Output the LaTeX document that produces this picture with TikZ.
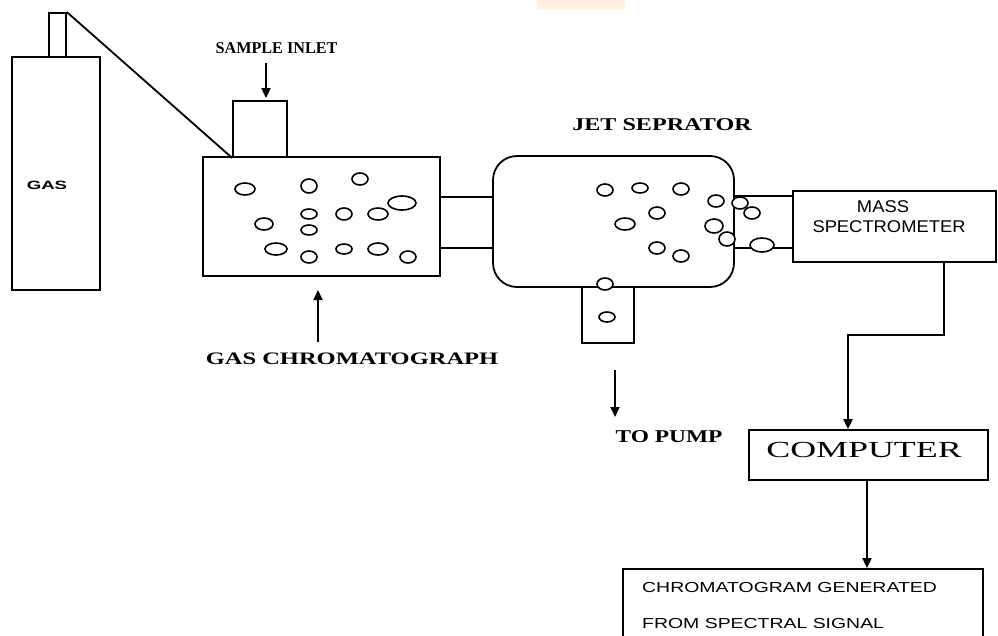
\documentclass[tikz,border=0pt]{standalone}
\usepackage{fontspec}
\setmainfont{Liberation Serif}
\setsansfont{Liberation Sans}
\usetikzlibrary{arrows.meta}

\newcommand{\wx}[2]{\scalebox{#1}[1]{#2}}

\tikzset{
  box/.style={draw, rectangle, line width=1.8pt, inner sep=0pt},
  arr/.style={-{Triangle[length=10pt,width=9pt]}, line width=1.8pt},
  pipe/.style={line width=1.8pt},
  lbl/.style={font=\bfseries\fontsize{16}{18}\selectfont, inner sep=0pt},
  slbl/.style={font=\sffamily\fontsize{14}{16}\selectfont, inner sep=0pt},
  bubble/.style={line width=1.6pt, fill=white}
}

\begin{document}
\begin{tikzpicture}[x=1pt, y=-1pt]
  \useasboundingbox (0,0) rectangle (998,635);
  % faint mark at the top edge
  \fill[orange!12] (537,0) rectangle (625,10);

  % gas cylinder
  \node (gas) [box, minimum width=88pt, minimum height=233pt] at (56,173.5) {};
  \node (neck) [box, minimum width=17pt, minimum height=44pt] at (57.5,35) {};
  \node (gastext) [slbl, font=\sffamily\bfseries\fontsize{12}{13}\selectfont] at (47,185) {\wx{1.55}{GAS}};

  % gas chromatograph
  \node (gc) [box, minimum width=237pt, minimum height=119pt] at (321.5,216.5) {};
  \node (inlet) [box, minimum width=54pt, minimum height=56pt] at (260,129) {};
  \node (inlettext) [lbl, font=\bfseries\fontsize{16.5}{18}\selectfont] at (276.5,48) {\wx{0.98}{SAMPLE INLET}};
  \node (gctext) [lbl, font=\bfseries\fontsize{17.5}{18}\selectfont] at (352,359) {\wx{1.4}{GAS CHROMATOGRAPH}};
  \coordinate (inlettop) at (266,63);
  \coordinate (gcfoot) at (318,342);
  \coordinate (gctip) at (318,290);

  % jet separator
  \node (jet) [box, rounded corners=24pt, minimum width=241pt, minimum height=131pt] at (613.5,221.5) {};
  \node (pump) [box, fill=white, minimum width=52pt, minimum height=56pt] at (608,315) {};
  \node (jettext) [lbl, font=\bfseries\fontsize{18}{20}\selectfont] at (662,125) {\wx{1.34}{JET SEPRATOR}};
  \node (pumptext) [lbl, font=\bfseries\fontsize{18}{20}\selectfont] at (669,437) {\wx{1.3}{TO PUMP}};
  \coordinate (pumpa) at (615,370);
  \coordinate (pumpb) at (615,417);

  % mass spectrometer, computer, output
  \node (ms) [box, minimum width=203pt, minimum height=71pt] at (894.5,226.5) {};
  \node (mstext1) [slbl, font=\sffamily\fontsize{17}{18}\selectfont] at (883,207) {\wx{1.08}{MASS}};
  \node (mstext2) [slbl, font=\sffamily\fontsize{17}{18}\selectfont] at (889,227) {\wx{1.08}{SPECTROMETER}};
  \node (computer) [box, minimum width=239pt, minimum height=50pt] at (868.5,455) {};
  \node (comptext) [inner sep=0pt, font=\fontsize{23}{24}\selectfont] at (864,450) {\wx{1.56}{COMPUTER}};
  \node (chrom) [box, minimum width=360pt, minimum height=72pt] at (803,605) {};
  \node (chromtext1) [slbl, anchor=west, font=\sffamily\fontsize{14.5}{16}\selectfont] at (642,587) {\wx{1.34}{CHROMATOGRAM GENERATED}};
  \node (chromtext2) [slbl, anchor=west, font=\sffamily\fontsize{14.5}{16}\selectfont] at (642,623) {\wx{1.34}{FROM SPECTRAL SIGNAL}};
  \coordinate (bend) at (848,335);

  % connections
  \draw [pipe] (neck.north east) -- (inlet.south west);
  \draw [arr] (inlettop) -- ([yshift=2pt]inlettop |- inlet.north);
  \draw [arr] (gcfoot) -- (gctip);
  \draw [pipe] (gc.east |- 0,197) -- (jet.west |- 0,197);
  \draw [pipe] (gc.east |- 0,248) -- (jet.west |- 0,248);
  \draw [pipe] (jet.east |- 0,196) -- (ms.west |- 0,196);
  \draw [pipe] (jet.east |- 0,248) -- (ms.west |- 0,248);
  \draw [arr] (pumpa) -- (pumpb);
  \draw [arr] (ms.south -| 944,0) |- (bend) -- (bend |- computer.north);
  \draw [arr] (computer.south -| 867,0) -- (chrom.north -| 867,0);

  % sample bubbles
  \foreach \x/\y/\a/\b in {245/189/10/6, 309/186/8/7, 360/179/8/6, 402/203/14/7,
      309/214/8/5, 344/214/8/6, 378/214/10/6, 264/224/9/6, 309/230/8/5,
      276/249/11/6, 309/257/8/6, 344/249/8/5, 378/249/10/6, 408/257/8/6,
      605/190/8/6, 640/188/8/5, 681/189/8/6, 716/201/8/6, 657/213/8/6,
      625/224/10/6, 714/226/9/7, 657/248/8/6, 681/256/8/6, 605/284/8/6,
      607/317/8/5, 740/203/8/6, 727/239/8/7, 752/213/8/6, 762/245/12/7}
    \draw [bubble] (\x,\y) ellipse [x radius=\a, y radius=\b];
\end{tikzpicture}
\end{document}
